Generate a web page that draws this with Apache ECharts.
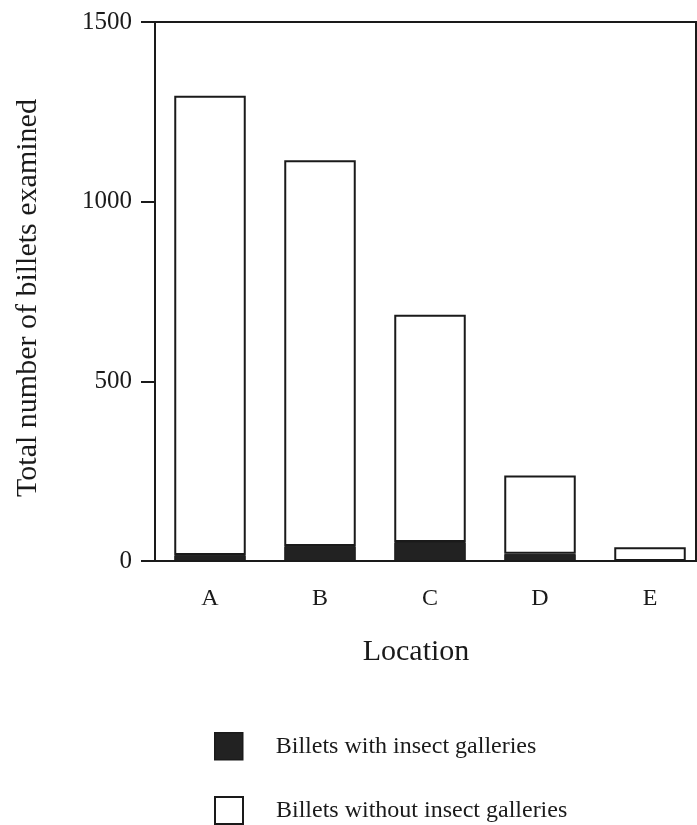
<!DOCTYPE html>
<html>
<head>
    <meta charset="UTF-8">
    <title>Billets examined by location</title>
    <script src="https://cdn.jsdelivr.net/npm/echarts@6/dist/echarts.min.js"></script>
</head>
<body style="margin: 0;padding: 0;background:#fff;overflow:hidden;">
    <!-- 画布比窗口略宽，右边框被裁掉，和原图一样 -->
    <div id="container" style="width:706px; height:825px;"></div>
    <script>
        // 数据
        var locations = ['A', 'B', 'C', 'D', 'E'];
        var withGalleries = [17, 42, 53, 20, 0];
        var withoutGalleries = [1278, 1073, 632, 218, 38];
        var yTicks = [0, 500, 1000, 1500];
        var seriesNames = ['Billets with insect galleries', 'Billets without insect galleries'];

        var serif = '"Liberation Serif", "DejaVu Serif", serif';
        var ink = '#1a1a1a';

        // 图例分成两个，避免底部空间不够时自动换列
        function makeLegend(name, top, fill, bw) {
            return {
                orient: 'vertical',
                left: 214, top: top,
                padding: 0,
                itemWidth: 28, itemHeight: 27,
                icon: 'rect',
                textStyle: {fontFamily: serif, fontSize: 24, color: ink, padding: [0, 0, 0, 28]},
                data: [{name: name, itemStyle: {color: fill, borderColor: ink, borderWidth: bw}}]
            };
        }

        var chart = echarts.init(document.getElementById('container'), null, {renderer: 'canvas'});
        var option = {
            animation: false,
            backgroundColor: '#fff',
            grid: {
                left: 155, top: 22, right: 1, bottom: 264,
                show: true, borderColor: ink, borderWidth: 2, backgroundColor: 'transparent'
            },
            legend: [
                makeLegend(seriesNames[0], 732, '#222', 1.5),
                makeLegend(seriesNames[1], 796, '#fff', 2)
            ],
            xAxis: {
                type: 'category',
                data: locations,
                name: 'Location',
                nameLocation: 'middle',
                nameGap: 76,
                nameTextStyle: {fontFamily: serif, fontSize: 30, color: ink, padding: [0, 28, 0, 0]},
                axisLine: {lineStyle: {color: ink, width: 2}},
                axisTick: {alignWithLabel: true, length: 12, lineStyle: {color: ink, width: 2}},
                axisLabel: {fontFamily: serif, fontSize: 24, color: ink, margin: 26}
            },
            yAxis: [{
                type: 'value',
                min: 0, max: 1500, interval: 500,
                name: 'Total number of billets examined',
                nameLocation: 'middle',
                nameGap: 112,
                nameTextStyle: {fontFamily: serif, fontSize: 30, color: ink, padding: [0, 13, 0, 0]},
                splitLine: {show: false},
                axisLine: {show: true, lineStyle: {color: ink, width: 2}},
                axisTick: {show: true, length: 14, lineStyle: {color: ink, width: 2}},
                axisLabel: {
                    fontFamily: serif, fontSize: 25, color: ink, margin: 23,
                    formatter: function (v) { return yTicks.indexOf(v) >= 0 ? String(v) : ''; }
                }
            }, {
                // 右侧边框线
                type: 'value', position: 'right', offset: -9,
                min: 0, max: 1500, interval: 500,
                splitLine: {show: false},
                axisLine: {show: true, lineStyle: {color: ink, width: 2}},
                axisTick: {show: false}, axisLabel: {show: false}
            }],
            series: [{
                type: 'bar',
                name: seriesNames[0],
                stack: 'total',
                barWidth: '65%',
                data: withGalleries,
                itemStyle: {color: '#222', borderColor: ink, borderWidth: 1}
            }, {
                type: 'bar',
                name: seriesNames[1],
                stack: 'total',
                barWidth: '65%',
                data: withoutGalleries,
                itemStyle: {color: '#fff', borderColor: ink, borderWidth: 2}
            }]
        };
        chart.setOption(option);
    </script>
</body>
</html>
